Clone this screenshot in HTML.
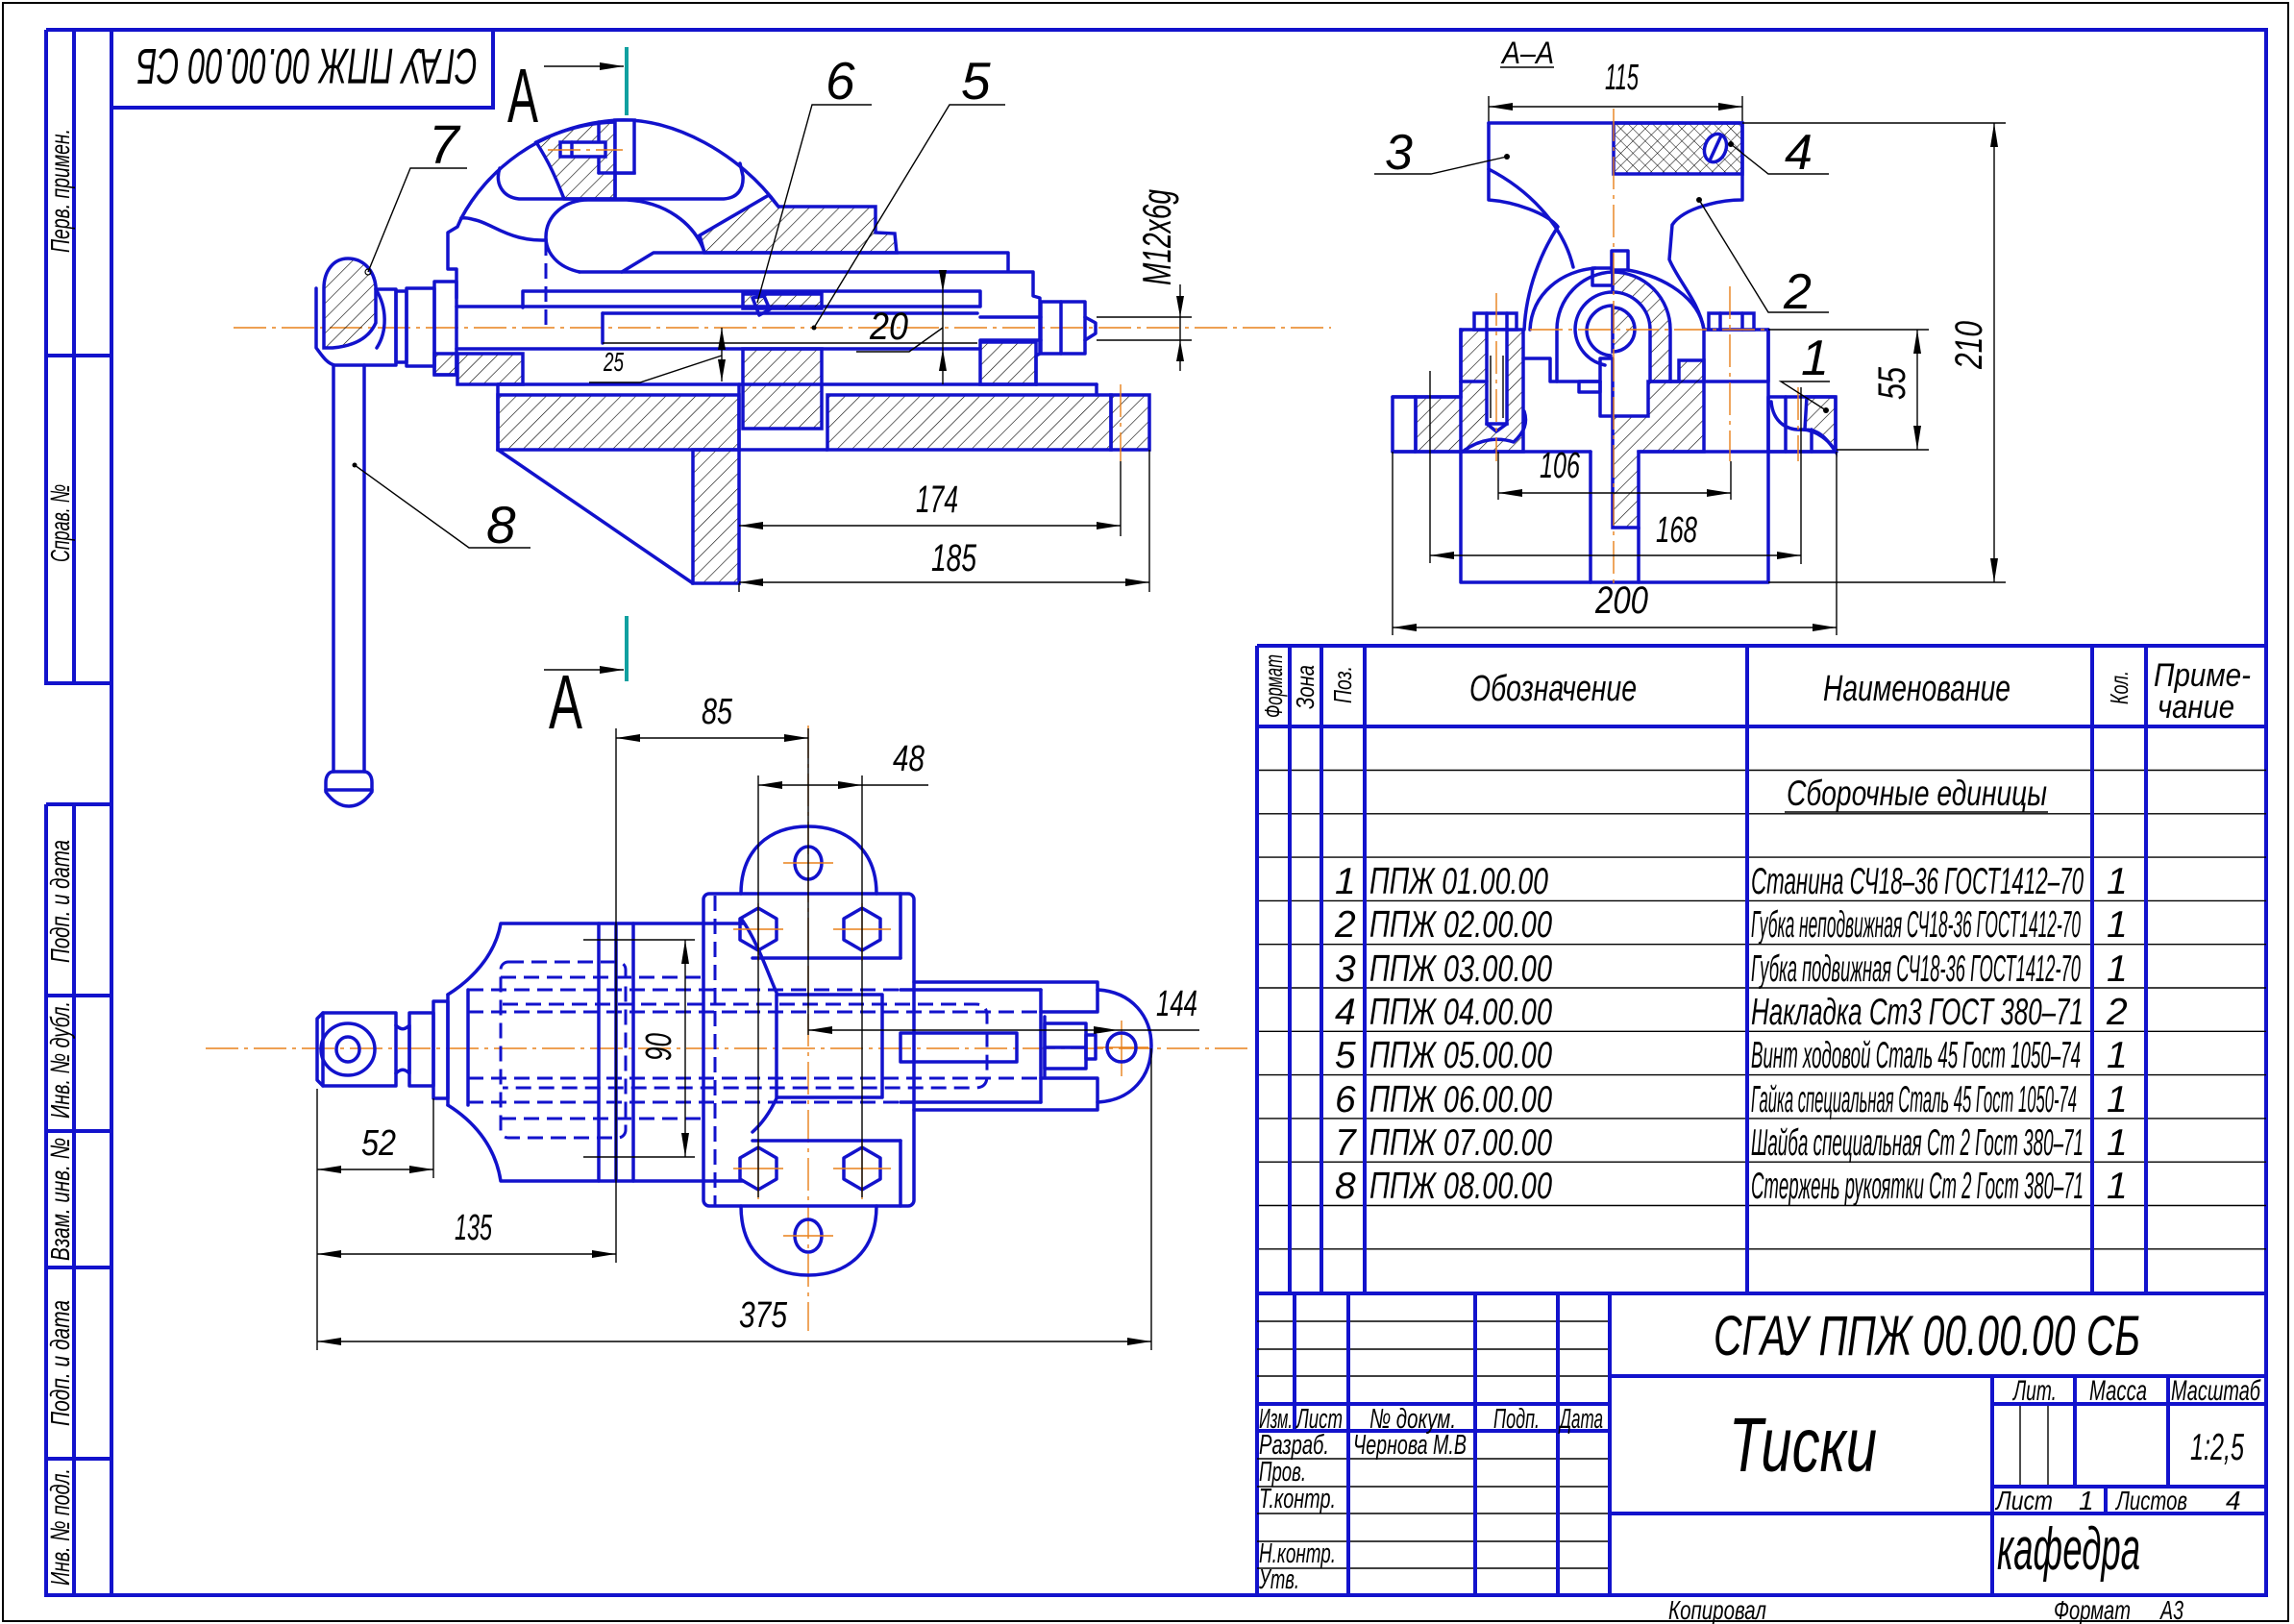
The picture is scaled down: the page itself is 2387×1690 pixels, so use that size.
<!DOCTYPE html>
<html><head><meta charset="utf-8">
<style>
html,body{margin:0;padding:0;background:#fff;}
svg{display:block;}
.m{stroke:#1212cc;stroke-width:3.5;fill:none;stroke-linejoin:round;stroke-linecap:round}
.mf{stroke:#1212cc;stroke-width:3.5;fill:#fff}
.hh{stroke:#1212cc;stroke-width:3.5;fill:url(#h)}
.hg{stroke:#1212cc;stroke-width:3.5;fill:url(#g)}
.t{stroke:#000;stroke-width:1.4;fill:none}
.c{stroke:#e8801a;stroke-width:1.4;fill:none;stroke-dasharray:34 6 4 6}
.d{stroke:#1212cc;stroke-width:3;fill:none;stroke-dasharray:16 8}
.b{stroke:#1212cc;stroke-width:4;fill:none}
.dm{marker-start:url(#a);marker-end:url(#a)}
.de{marker-end:url(#a)}
text{font-family:"Liberation Sans Narrow","Liberation Sans",sans-serif;font-style:italic;fill:#000}
</style></head><body>
<svg width="2387" height="1690" viewBox="0 0 2387 1690" xmlns="http://www.w3.org/2000/svg">
<defs>
<marker id="a" markerUnits="userSpaceOnUse" markerWidth="28" markerHeight="10" viewBox="-27 -5 28 10" refX="0" refY="0" orient="auto-start-reverse"><path d="M0,0 L-25,-4 L-25,4 Z" fill="#000"/></marker>
<pattern id="h" patternUnits="userSpaceOnUse" width="11" height="11" patternTransform="rotate(45)"><line x1="0" y1="0" x2="0" y2="11" stroke="#000" stroke-width="1.2"/></pattern>
<pattern id="g" patternUnits="userSpaceOnUse" width="11" height="11" patternTransform="rotate(-45)"><line x1="0" y1="0" x2="0" y2="11" stroke="#000" stroke-width="1.2"/></pattern>
<pattern id="x" patternUnits="userSpaceOnUse" width="9" height="9" patternTransform="rotate(45)"><path d="M0,0 V9 M0,0 H9" stroke="#000" stroke-width="1"/></pattern>
</defs>
<rect x="0" y="0" width="2387" height="1690" fill="#fff"/>
<!-- outer thin border -->
<rect x="3" y="3" width="2378" height="1684" fill="none" stroke="#000" stroke-width="2"/>
<!-- main frame -->
<rect class="b" x="116" y="31" width="2242" height="1629"/>

<!-- left margin upper -->
<path class="b" d="M48,31 L116,31 M48,31 L48,711 L116,711 M77,31 L77,711 M48,370 L116,370"/>
<text transform="translate(72,199) rotate(-90)" x="-64" y="0" font-size="28" textLength="129" lengthAdjust="spacingAndGlyphs">Перв. примен.</text>
<text transform="translate(72,545) rotate(-90)" x="-40" y="0" font-size="28" textLength="81" lengthAdjust="spacingAndGlyphs">Справ. №</text>
<!-- left margin lower -->
<path class="b" d="M48,837 L116,837 M48,837 L48,1660 L116,1660 M77,837 L77,1660 M48,1036 L116,1036 M48,1177 L116,1177 M48,1319 L116,1319 M48,1518 L116,1518"/>
<text transform="translate(72,938) rotate(-90)" x="-64" y="0" font-size="28" textLength="128" lengthAdjust="spacingAndGlyphs">Подп. и дата</text>
<text transform="translate(72,1103) rotate(-90)" x="-61" y="0" font-size="28" textLength="122" lengthAdjust="spacingAndGlyphs">Инв. № дубл.</text>
<text transform="translate(72,1248) rotate(-90)" x="-64" y="0" font-size="28" textLength="128" lengthAdjust="spacingAndGlyphs">Взам. инв. №</text>
<text transform="translate(72,1419) rotate(-90)" x="-65" y="0" font-size="28" textLength="131" lengthAdjust="spacingAndGlyphs">Подп. и дата</text>
<text transform="translate(72,1589) rotate(-90)" x="-61" y="0" font-size="28" textLength="122" lengthAdjust="spacingAndGlyphs">Инв. № подл.</text>

<!-- top-left stamp -->
<path class="b" d="M116,112 L513,112 L513,31"/>
<text transform="translate(320,70) rotate(180)" x="-177" y="19" font-size="52" textLength="355" lengthAdjust="spacingAndGlyphs">СГАУ ППЖ 00.00.00 СБ</text>

<!-- ================= SIDE VIEW ================= -->
<line class="c" x1="243" y1="341" x2="1385" y2="341"/>
<!-- handle head -->
<path class="m" d="M329,300 L329,362 C335,370 340,378 348,380 L412,380 L412,301 L392,301"/>
<path class="hh" d="M337,300 C337,282 347,269 362,269 C378,269 389,281 391,298 L391,336 C384,352 368,360 346,362 L337,362 Z"/>
<path class="m" d="M391,301 C403,320 403,345 392,362"/>
<rect class="m" x="412" y="303" width="11" height="74"/>
<rect class="m" x="423" y="300" width="29" height="81"/>
<rect class="m" x="452" y="293" width="23" height="97"/>
<circle cx="383" cy="283" r="3" fill="none" stroke="#000" stroke-width="1.2"/>
<!-- handle rod -->
<line class="m" x1="347" y1="380" x2="347" y2="803"/>
<line class="m" x1="379" y1="380" x2="379" y2="803"/>
<path class="m" d="M347,803 L379,803 C384,803 387,808 387,814 L387,824 C380,834 372,839 363,839 C354,839 346,834 339,824 L339,814 C339,808 342,803 347,803 Z"/>
<line class="m" x1="339" y1="822" x2="387" y2="822"/>
<!-- jaw body -->
<path class="m" d="M480,227 L476,236 L466,242 L466,280 L475,280 L475,310"/>
<path class="m" d="M480,227 C505,180 560,130 643,125 C700,122 770,160 810,215"/>
<path class="m" d="M480,227 C486,226 490,228 495,229 C508,232 520,242 540,247 C552,250 560,250 568,250"/>
<path class="m" d="M520,175 C515,190 522,205 540,207 L753,207 C768,206 774,196 773,183 L770,170"/>
<path class="hh" d="M558,148 C585,135 610,128 640,127 L640,207 L587,207 C580,190 575,175 558,148 Z"/>
<line class="m" x1="623" y1="127" x2="623" y2="180"/>
<line class="m" x1="623" y1="180" x2="660" y2="180"/>
<rect class="mf" x="583" y="148" width="47" height="15"/>
<line class="m" x1="595" y1="148" x2="595" y2="163"/>
<rect class="mf" x="640" y="125" width="20" height="55"/>
<line class="m" x1="640" y1="180" x2="640" y2="207"/>
<line class="c" x1="570" y1="156" x2="648" y2="156"/>
<line class="d" x1="568" y1="250" x2="568" y2="341"/>
<path class="m" d="M603,283 C580,278 568,263 568,247 C568,224 588,208 612,208 L652,208 C692,210 722,232 733,262"/>
<path class="hh" d="M733,263 L728,245 L800,203 L810,215 L911,215 L911,242 L931,243 L933,263 Z"/>
<!-- slide -->
<path class="m" d="M647,283 L680,263 L1049,263 L1049,282"/>
<path class="m" d="M603,283 L1075,283 L1075,308 L1082,310 L1082,368 L1078,370 L1078,400"/>
<path class="m" d="M544,320 L544,303 L1020,303 L1020,318"/>
<!-- screw -->
<line class="m" x1="475" y1="319" x2="1020" y2="319"/>
<line class="m" x1="475" y1="363" x2="1020" y2="363"/>
<line class="m" x1="627" y1="326" x2="627" y2="357"/>
<line class="m" x1="627" y1="326" x2="1017" y2="326"/>
<line class="t" x1="627" y1="357" x2="1017" y2="357"/>
<line class="m" x1="1020" y1="330" x2="1083" y2="330"/>
<line class="m" x1="1020" y1="354" x2="1083" y2="354"/>
<rect class="m" x="1083" y="314" width="46" height="54"/>
<line class="m" x1="1104" y1="314" x2="1104" y2="368"/>
<path class="m" d="M1129,330 L1140,336 L1140,347 L1129,354"/>
<!-- lower hatched parts -->
<rect class="hh" x="476" y="368" width="68" height="32"/>
<rect class="hh" x="452" y="368" width="23" height="22"/>
<rect class="hh" x="773" y="363" width="82" height="83"/>
<rect class="hh" x="773" y="306" width="82" height="15"/>
<path class="m" d="M783,310 L795,308 L801,322 L790,328 Z" fill="#fff"/>
<rect class="hh" x="1020" y="356" width="58" height="44"/>
<!-- base -->
<line class="m" x1="518" y1="400" x2="1141" y2="400"/>
<line class="m" x1="1141" y1="400" x2="1141" y2="411"/>
<rect class="hh" x="518" y="411" width="251" height="57"/>
<rect class="hh" x="861" y="411" width="295" height="57"/>
<rect class="hh" x="1156" y="411" width="40" height="57"/>
<line class="m" x1="769" y1="468" x2="861" y2="468"/>
<line class="m" x1="769" y1="400" x2="769" y2="468"/>
<rect class="hh" x="721" y="468" width="48" height="139"/>
<line class="m" x1="518" y1="468" x2="721" y2="607"/>
<line class="m" x1="518" y1="400" x2="518" y2="468"/>
<line class="c" x1="1166" y1="400" x2="1166" y2="480"/>
<!-- dims side -->
<line class="t" x1="981" y1="283" x2="981" y2="400"/>
<path d="M981,304 L977,281 L985,281 Z" fill="#000"/>
<path d="M981,363 L977,386 L985,386 Z" fill="#000"/>
<text x="905" y="353" font-size="40" textLength="40" lengthAdjust="spacingAndGlyphs">20</text>
<path class="t" d="M891,366 L946,366 L981,341"/>
<line class="t" x1="751" y1="341" x2="751" y2="397"/>
<path d="M751,341 L747,364 L755,364 Z" fill="#000"/>
<path d="M751,397 L747,374 L755,374 Z" fill="#000"/>
<text x="628" y="386" font-size="28" textLength="21" lengthAdjust="spacingAndGlyphs">25</text>
<path class="t" d="M613,398 L666,398 L751,370"/>
<line class="t" x1="1141" y1="330" x2="1240" y2="330"/>
<line class="t" x1="1141" y1="354" x2="1240" y2="354"/>
<line class="t" x1="1228" y1="296" x2="1228" y2="386"/>
<path d="M1228,330 L1224,308 L1232,308 Z" fill="#000"/>
<path d="M1228,354 L1224,376 L1232,376 Z" fill="#000"/>
<text transform="translate(1218,247) rotate(-90)" x="-50" y="0" font-size="42" textLength="100" lengthAdjust="spacingAndGlyphs">M12x6g</text>
<line class="t" x1="1166" y1="480" x2="1166" y2="558"/>
<line class="t" x1="1196" y1="468" x2="1196" y2="616"/>
<line class="t" x1="769" y1="607" x2="769" y2="616"/>
<line class="t dm" x1="769" y1="547" x2="1166" y2="547"/>
<line class="t dm" x1="769" y1="606" x2="1196" y2="606"/>
<text x="953" y="533" font-size="40" textLength="44" lengthAdjust="spacingAndGlyphs">174</text>
<text x="969" y="594" font-size="40" textLength="47" lengthAdjust="spacingAndGlyphs">185</text>
<!-- labels side -->
<text x="446" y="170" font-size="57">7</text>
<path class="t" d="M486,175 L427,175 L383,283"/>
<text x="859" y="103" font-size="55">6</text>
<path class="t" d="M907,109 L845,109 L788,315"/>
<text x="1000" y="103" font-size="55">5</text>
<path class="t" d="M1046,109 L988,109 L847,341"/>
<circle cx="847" cy="341" r="2.5" fill="#000"/>
<text x="506" y="565" font-size="55">8</text>
<path class="t" d="M552,570 L488,570 L369,484"/>
<circle cx="369" cy="484" r="2.5" fill="#000"/>
<!-- section marks -->
<line x1="652" y1="49" x2="652" y2="120" stroke="#10a0a0" stroke-width="4"/>
<line class="t de" x1="566" y1="69" x2="649" y2="69"/>
<text x="528" y="127" font-size="80" textLength="32" lengthAdjust="spacingAndGlyphs" style="font-style:normal">A</text>
<line x1="652" y1="641" x2="652" y2="709" stroke="#10a0a0" stroke-width="4"/>
<line class="t de" x1="566" y1="697" x2="649" y2="697"/>
<text x="571" y="758" font-size="80" textLength="35" lengthAdjust="spacingAndGlyphs" style="font-style:normal">A</text>

<!-- ================= SECTION A-A ================= -->
<text x="1563" y="66" font-size="32" textLength="54" lengthAdjust="spacingAndGlyphs">А–А</text>
<line class="t" x1="1561" y1="70" x2="1617" y2="70"/>
<line class="t" x1="1549" y1="100" x2="1549" y2="128"/>
<line class="t" x1="1813" y1="100" x2="1813" y2="128"/>
<line class="t dm" x1="1549" y1="111" x2="1813" y2="111"/>
<text x="1670" y="93" font-size="38" textLength="35" lengthAdjust="spacingAndGlyphs">115</text>
<rect x="1679" y="128" width="134" height="53" fill="url(#x)" stroke="#1212cc" stroke-width="3.5"/>
<path class="m" d="M1549,128 L1813,128 L1813,208 C1790,208 1752,216 1740,234 L1737,270 C1746,292 1768,314 1773,343"/>
<path class="m" d="M1549,128 L1549,208 C1576,210 1610,222 1621,236 C1604,262 1588,300 1586,343"/>
<path class="m" d="M1549,176 C1588,196 1626,232 1637,278"/>
<ellipse class="mf" cx="1785" cy="154" rx="11" ry="15" transform="rotate(20 1785 154)"/>
<line class="m" x1="1779" y1="167" x2="1791" y2="141"/>
<!-- hub -->
<path class="m" d="M1592,343 C1594,305 1625,282 1660,279"/>
<path class="m" d="M1694,281 C1732,288 1768,310 1773,343"/>
<rect class="m" x="1677" y="261" width="17" height="20"/>
<rect class="m" x="1657" y="279" width="21" height="18"/>
<path class="hh" d="M1678,283 A60,60 0 0 1 1738,343 L1738,397 L1717,397 L1717,343 A39,39 0 0 0 1678,304 Z"/>
<path class="hh" d="M1678,320 A23,23 0 0 1 1678,366 Z"/>
<path class="m" d="M1678,304 A39,39 0 0 0 1639,343 A39,39 0 0 0 1670,380"/>
<path class="m" d="M1678,318 A27,27 0 0 0 1651,343 A27,27 0 0 0 1676,370"/>
<path class="m" d="M1678,283 A60,60 0 0 0 1620,343 L1620,397"/>
<rect class="m" x="1665" y="373" width="13" height="60"/>
<rect class="m" x="1643" y="397" width="22" height="11"/>
<path class="m" d="M1585,373 L1613,373 L1613,397 L1665,397"/>
<!-- left block & flange -->
<path class="hh" d="M1473,413 L1520,413 L1520,343 L1585,343 L1585,470 L1473,470 Z"/>
<rect class="m" x="1449" y="413" width="24" height="57"/>
<line class="m" x1="1449" y1="413" x2="1520" y2="413"/>
<path class="m" d="M1522,470 C1540,456 1560,455 1575,460 C1586,450 1590,440 1586,428"/>
<rect class="mf" x="1534" y="326" width="44" height="17"/>
<line class="m" x1="1547" y1="326" x2="1547" y2="343"/>
<line class="m" x1="1568" y1="326" x2="1568" y2="343"/>
<rect class="mf" x="1547" y="343" width="21" height="98"/>
<line class="t" x1="1551" y1="370" x2="1551" y2="435"/>
<line class="t" x1="1564" y1="370" x2="1564" y2="435"/>
<path class="m" d="M1547,441 L1557,449 L1568,441"/>
<line class="m" x1="1520" y1="397" x2="1547" y2="397"/>
<!-- right block & flange -->
<rect class="m" x="1773" y="343" width="67" height="54"/>
<line class="m" x1="1738" y1="397" x2="1773" y2="397"/>
<rect class="mf" x="1778" y="326" width="47" height="17"/>
<line class="m" x1="1790" y1="326" x2="1790" y2="343"/>
<line class="m" x1="1813" y1="326" x2="1813" y2="343"/>
<path class="hh" d="M1880,413 L1910,413 L1910,470 C1900,455 1892,447 1878,447 Z"/>
<rect class="m" x="1840" y="413" width="70" height="57"/>
<path class="m" d="M1843,418 C1845,440 1860,448 1875,447 C1890,447 1905,460 1910,470"/>
<line class="m" x1="1858" y1="413" x2="1858" y2="470"/>
<line class="m" x1="1885" y1="447" x2="1885" y2="470"/>
<!-- center hatched -->
<path class="hh" d="M1678,433 L1715,433 L1715,397 L1747,397 L1747,375 L1773,375 L1773,470 L1705,470 L1705,549 L1678,549 Z"/>
<!-- lower box -->
<path class="m" d="M1520,343 L1520,606 L1840,606 L1840,343"/>
<line class="m" x1="1655" y1="470" x2="1655" y2="606"/>
<line class="m" x1="1705" y1="549" x2="1705" y2="606"/>
<line class="m" x1="1449" y1="470" x2="1655" y2="470"/>
<line class="m" x1="1705" y1="470" x2="1911" y2="470"/>
<!-- centerlines -->
<line class="c" x1="1679" y1="113" x2="1679" y2="607"/>
<line class="c" x1="1592" y1="343" x2="1840" y2="343"/>
<line class="c" x1="1557" y1="305" x2="1557" y2="480"/>
<line class="c" x1="1800" y1="298" x2="1800" y2="480"/>
<line class="c" x1="1871" y1="403" x2="1871" y2="480"/>
<!-- dims A-A -->
<line class="t" x1="1559" y1="470" x2="1559" y2="520"/>
<line class="t" x1="1801" y1="480" x2="1801" y2="520"/>
<line class="t dm" x1="1559" y1="513" x2="1801" y2="513"/>
<text x="1602" y="497" font-size="38" textLength="42" lengthAdjust="spacingAndGlyphs">106</text>
<line class="t" x1="1488" y1="386" x2="1488" y2="586"/>
<line class="t" x1="1874" y1="403" x2="1874" y2="587"/>
<line class="t dm" x1="1488" y1="578" x2="1874" y2="578"/>
<text x="1723" y="564" font-size="38" textLength="43" lengthAdjust="spacingAndGlyphs">168</text>
<line class="t" x1="1449" y1="470" x2="1449" y2="661"/>
<line class="t" x1="1911" y1="470" x2="1911" y2="661"/>
<line class="t dm" x1="1449" y1="653" x2="1911" y2="653"/>
<text x="1660" y="638" font-size="40" textLength="55" lengthAdjust="spacingAndGlyphs">200</text>
<line class="t" x1="1840" y1="343" x2="2007" y2="343"/>
<line class="t" x1="1911" y1="468" x2="2007" y2="468"/>
<line class="t dm" x1="1995" y1="343" x2="1995" y2="468"/>
<text transform="translate(1982,399) rotate(-90)" x="-17" y="0" font-size="40" textLength="34" lengthAdjust="spacingAndGlyphs">55</text>
<line class="t" x1="1813" y1="128" x2="2087" y2="128"/>
<line class="t" x1="1840" y1="606" x2="2087" y2="606"/>
<line class="t dm" x1="2075" y1="128" x2="2075" y2="606"/>
<text transform="translate(2062,359) rotate(-90)" x="-25" y="0" font-size="40" textLength="50" lengthAdjust="spacingAndGlyphs">210</text>
<!-- labels A-A -->
<text x="1441" y="176" font-size="52">3</text>
<path class="t" d="M1430,181 L1489,181 L1568,163"/>
<circle cx="1568" cy="163" r="3" fill="#000"/>
<text x="1857" y="176" font-size="52">4</text>
<path class="t" d="M1903,181 L1840,181 L1801,150"/>
<circle cx="1801" cy="150" r="3" fill="#000"/>
<text x="1856" y="321" font-size="52">2</text>
<path class="t" d="M1903,325 L1840,325 L1768,208"/>
<circle cx="1768" cy="208" r="3" fill="#000"/>
<text x="1874" y="390" font-size="52">1</text>
<path class="t" d="M1904,397 L1853,397 L1900,427"/>
<circle cx="1900" cy="427" r="3" fill="#000"/>

<!-- ================= PLAN VIEW ================= -->
<line class="c" x1="214" y1="1091" x2="1300" y2="1091"/>
<line class="c" x1="841" y1="755" x2="841" y2="1385"/>
<!-- eye -->
<path class="m" d="M336,1054 L412,1054 L412,1130 L336,1130 L330,1124 L330,1060 Z"/>
<line class="m" x1="336" y1="1054" x2="336" y2="1130"/>
<ellipse class="m" cx="362" cy="1092" rx="28" ry="27"/>
<ellipse class="m" cx="362" cy="1092" rx="12" ry="13"/>
<path class="m" d="M412,1067 C417,1072 421,1072 426,1067 L426,1117 C421,1112 417,1112 412,1117"/>
<rect class="m" x="426" y="1054" width="25" height="76"/>
<rect class="m" x="451" y="1042" width="15" height="101"/>
<!-- body -->
<path class="m" d="M466,1035 C490,1020 515,995 521,961 L773,961"/>
<path class="m" d="M466,1150 C490,1165 515,1190 521,1229 L773,1229"/>
<line class="m" x1="466" y1="1035" x2="466" y2="1150"/>
<line class="m" x1="487" y1="1030" x2="487" y2="1150"/>
<line class="m" x1="623" y1="961" x2="623" y2="1229"/>
<line class="m" x1="641" y1="961" x2="641" y2="1229"/>
<line class="m" x1="659" y1="961" x2="659" y2="1229"/>
<!-- dashed hidden -->
<rect class="d" x="521" y="1001" width="130" height="183" rx="8"/>
<line class="d" x1="487" y1="1030" x2="937" y2="1030"/>
<line class="d" x1="487" y1="1147" x2="937" y2="1147"/>
<path class="d" d="M523,1045 L1015,1045 Q1027,1045 1027,1057 L1027,1120 Q1027,1132 1015,1132 L523,1132"/>
<line class="d" x1="487" y1="1053" x2="1083" y2="1053"/>
<line class="d" x1="487" y1="1122" x2="1083" y2="1122"/>
<line class="d" x1="521" y1="1017" x2="730" y2="1017"/>
<line class="d" x1="521" y1="1164" x2="730" y2="1164"/>
<!-- center block -->
<rect class="m" x="732" y="930" width="219" height="325" rx="6"/>
<line class="d" x1="744" y1="932" x2="744" y2="1255"/>
<line class="m" x1="783" y1="997" x2="937" y2="997"/>
<line class="m" x1="783" y1="1187" x2="937" y2="1187"/>
<line class="m" x1="937" y1="930" x2="937" y2="997"/>
<line class="m" x1="937" y1="1187" x2="937" y2="1255"/>
<path class="m" d="M772,957 C788,980 798,1010 808,1033"/>
<path class="m" d="M808,1143 C800,1160 792,1170 783,1178"/>
<path class="m" d="M771,930 C771,885 800,860 841,860 C882,860 912,885 912,930"/>
<path class="m" d="M771,1255 C771,1302 800,1327 841,1327 C882,1327 912,1302 912,1255"/>
<ellipse class="m" cx="841" cy="898" rx="14" ry="17"/>
<ellipse class="m" cx="841" cy="1286" rx="14" ry="17"/>
<polygon class="m" points="789,945 808,956 808,978 789,989 770,978 770,956"/>
<polygon class="m" points="897,945 916,956 916,978 897,989 878,978 878,956"/>
<polygon class="m" points="789,1194 808,1205 808,1227 789,1238 770,1227 770,1205"/>
<polygon class="m" points="897,1194 916,1205 916,1227 897,1238 878,1227 878,1205"/>
<path style="stroke:#e8801a;stroke-width:1.4;fill:none" d="M763,967 L815,967 M867,967 L927,967 M763,1216 L815,1216 M867,1216 L927,1216 M815,898 L867,898 M815,1286 L867,1286 M789,940 L789,1000 M897,940 L897,1000 M789,1188 L789,1248 M897,1188 L897,1248 M1167,1062 L1167,1120 M1140,1090 L1195,1090"/>
<!-- right portion -->
<path class="m" d="M951,1022 L1142,1022 L1142,1053 L1083,1053"/>
<path class="m" d="M951,1155 L1142,1155 L1142,1122 L1083,1122"/>
<line class="m" x1="937" y1="1030" x2="1083" y2="1030"/>
<line class="m" x1="937" y1="1147" x2="1083" y2="1147"/>
<line class="m" x1="1083" y1="1030" x2="1083" y2="1147"/>
<path class="m" d="M1142,1030 C1178,1032 1198,1058 1198,1088 C1198,1120 1178,1145 1142,1147"/>
<ellipse class="m" cx="1167" cy="1090" rx="15" ry="15"/>
<line class="m" x1="1087" y1="1058" x2="1087" y2="1120"/>
<rect class="m" x="1087" y="1065" width="43" height="47"/>
<line class="m" x1="1087" y1="1090" x2="1130" y2="1090"/>
<rect class="m" x="1130" y="1077" width="10" height="25"/>
<rect class="m" x="937" y="1075" width="121" height="30"/>
<rect class="m" x="808" y="1035" width="110" height="107"/>
<!-- dims plan -->
<line class="t" x1="641" y1="758" x2="641" y2="1314"/>
<line class="t" x1="841" y1="758" x2="841" y2="1077"/>
<line class="t dm" x1="641" y1="768" x2="841" y2="768"/>
<text x="730" y="753" font-size="38" textLength="32" lengthAdjust="spacingAndGlyphs">85</text>
<line class="t" x1="789" y1="807" x2="789" y2="1246"/>
<line class="t" x1="897" y1="807" x2="897" y2="1246"/>
<line class="t dm" x1="789" y1="817" x2="897" y2="817"/>
<line class="t" x1="897" y1="817" x2="966" y2="817"/>
<text x="929" y="802" font-size="38" textLength="33" lengthAdjust="spacingAndGlyphs">48</text>
<line class="t" x1="607" y1="978" x2="723" y2="978"/>
<line class="t" x1="607" y1="1204" x2="723" y2="1204"/>
<line class="t dm" x1="713" y1="978" x2="713" y2="1204"/>
<text transform="translate(698,1089) rotate(-90)" x="-15" y="0" font-size="38" textLength="29" lengthAdjust="spacingAndGlyphs">90</text>
<line class="t" x1="330" y1="1133" x2="330" y2="1405"/>
<line class="t" x1="451" y1="1143" x2="451" y2="1226"/>
<line class="t dm" x1="330" y1="1217" x2="451" y2="1217"/>
<text x="376" y="1202" font-size="38" textLength="36" lengthAdjust="spacingAndGlyphs">52</text>
<line class="t dm" x1="330" y1="1305" x2="641" y2="1305"/>
<text x="473" y="1290" font-size="38" textLength="39" lengthAdjust="spacingAndGlyphs">135</text>
<line class="t" x1="1198" y1="1091" x2="1198" y2="1405"/>
<line class="t dm" x1="330" y1="1396" x2="1198" y2="1396"/>
<text x="769" y="1381" font-size="38" textLength="50" lengthAdjust="spacingAndGlyphs">375</text>
<line class="t dm" x1="841" y1="1072" x2="1163" y2="1072"/>
<line class="t" x1="1163" y1="1072" x2="1248" y2="1072"/>
<text x="1203" y="1057" font-size="38" textLength="43" lengthAdjust="spacingAndGlyphs">144</text>

<!-- ================= SPEC TABLE ================= -->
<g class="t">
<line x1="1308" y1="801.5" x2="2358" y2="801.5"/>
<line x1="1308" y1="846.8" x2="2358" y2="846.8"/>
<line x1="1308" y1="892.1" x2="2358" y2="892.1"/>
<line x1="1308" y1="937.4" x2="2358" y2="937.4"/>
<line x1="1308" y1="982.7" x2="2358" y2="982.7"/>
<line x1="1308" y1="1028" x2="2358" y2="1028"/>
<line x1="1308" y1="1073.3" x2="2358" y2="1073.3"/>
<line x1="1308" y1="1118.6" x2="2358" y2="1118.6"/>
<line x1="1308" y1="1163.9" x2="2358" y2="1163.9"/>
<line x1="1308" y1="1209.2" x2="2358" y2="1209.2"/>
<line x1="1308" y1="1254.5" x2="2358" y2="1254.5"/>
<line x1="1308" y1="1299.8" x2="2358" y2="1299.8"/>
</g>
<path class="b" d="M1308,672 L2358,672 M1308,756 L2358,756 M1308,672 L1308,1660 M1342,672 L1342,1346 M1375,672 L1375,1346 M1420,672 L1420,1346 M1818,672 L1818,1346 M2177,672 L2177,1346 M2233,672 L2233,1346"/>
<text transform="translate(1334,714) rotate(-90)" x="-33" y="0" font-size="26" textLength="66" lengthAdjust="spacingAndGlyphs">Формат</text>
<text transform="translate(1367,715) rotate(-90)" x="-23" y="0" font-size="26" textLength="46" lengthAdjust="spacingAndGlyphs">Зона</text>
<text transform="translate(1406,712) rotate(-90)" x="-20" y="0" font-size="26" textLength="39" lengthAdjust="spacingAndGlyphs">Поз.</text>
<text transform="translate(2214,715) rotate(-90)" x="-18" y="0" font-size="26" textLength="35" lengthAdjust="spacingAndGlyphs">Кол.</text>
<text x="1529" y="729" font-size="38" textLength="174" lengthAdjust="spacingAndGlyphs">Обозначение</text>
<text x="1897" y="729" font-size="38" textLength="195" lengthAdjust="spacingAndGlyphs">Наименование</text>
<text x="2241" y="714" font-size="34" textLength="101" lengthAdjust="spacingAndGlyphs">Приме-</text>
<text x="2245" y="747" font-size="34" textLength="80" lengthAdjust="spacingAndGlyphs">чание</text>
<text x="1859" y="838" font-size="37" textLength="271" lengthAdjust="spacingAndGlyphs">Сборочные единицы</text>
<line class="t" x1="1857" y1="845" x2="2131" y2="845"/>
<g font-size="39">
<text x="1389" y="930">1</text><text x="1389" y="975">2</text><text x="1389" y="1021">3</text><text x="1389" y="1066">4</text>
<text x="1389" y="1111">5</text><text x="1389" y="1157">6</text><text x="1389" y="1202">7</text><text x="1389" y="1247">8</text>
<text x="1425" y="930" textLength="186" lengthAdjust="spacingAndGlyphs">ППЖ 01.00.00</text>
<text x="1425" y="975" textLength="190" lengthAdjust="spacingAndGlyphs">ППЖ 02.00.00</text>
<text x="1425" y="1021" textLength="190" lengthAdjust="spacingAndGlyphs">ППЖ 03.00.00</text>
<text x="1425" y="1066" textLength="190" lengthAdjust="spacingAndGlyphs">ППЖ 04.00.00</text>
<text x="1425" y="1111" textLength="190" lengthAdjust="spacingAndGlyphs">ППЖ 05.00.00</text>
<text x="1425" y="1157" textLength="190" lengthAdjust="spacingAndGlyphs">ППЖ 06.00.00</text>
<text x="1425" y="1202" textLength="190" lengthAdjust="spacingAndGlyphs">ППЖ 07.00.00</text>
<text x="1425" y="1247" textLength="190" lengthAdjust="spacingAndGlyphs">ППЖ 08.00.00</text>
<text x="1822" y="930" textLength="346" lengthAdjust="spacingAndGlyphs">Станина СЧ18–36 ГОСТ1412–70</text>
<text x="1822" y="975" textLength="343" lengthAdjust="spacingAndGlyphs">Губка неподвижная СЧ18-36 ГОСТ1412-70</text>
<text x="1822" y="1021" textLength="343" lengthAdjust="spacingAndGlyphs">Губка подвижная СЧ18-36 ГОСТ1412-70</text>
<text x="1822" y="1066" textLength="346" lengthAdjust="spacingAndGlyphs">Накладка Ст3 ГОСТ 380–71</text>
<text x="1822" y="1111" textLength="343" lengthAdjust="spacingAndGlyphs">Винт ходовой Сталь 45 Гост 1050–74</text>
<text x="1822" y="1157" textLength="339" lengthAdjust="spacingAndGlyphs">Гайка специальная Сталь 45 Гост 1050-74</text>
<text x="1822" y="1202" textLength="346" lengthAdjust="spacingAndGlyphs">Шайба специальная Ст 2 Гост 380–71</text>
<text x="1822" y="1247" textLength="346" lengthAdjust="spacingAndGlyphs">Стержень рукоятки Ст 2 Гост 380–71</text>
<text x="2192" y="930">1</text><text x="2192" y="975">1</text><text x="2192" y="1021">1</text><text x="2192" y="1066">2</text>
<text x="2192" y="1111">1</text><text x="2192" y="1157">1</text><text x="2192" y="1202">1</text><text x="2192" y="1247">1</text>
</g>

<!-- ================= TITLE BLOCK ================= -->
<g class="t">
<line x1="1308" y1="1375" x2="1675" y2="1375"/>
<line x1="1308" y1="1404" x2="1675" y2="1404"/>
<line x1="1308" y1="1432" x2="1675" y2="1432"/>
<line x1="1308" y1="1518" x2="1675" y2="1518"/>
<line x1="1308" y1="1547" x2="1675" y2="1547"/>
<line x1="1308" y1="1575" x2="1675" y2="1575"/>
<line x1="1308" y1="1604" x2="1675" y2="1604"/>
<line x1="1308" y1="1632" x2="1675" y2="1632"/>
<line x1="2102" y1="1461" x2="2102" y2="1547"/>
<line x1="2131" y1="1461" x2="2131" y2="1547"/>
</g>
<path class="b" d="M1308,1346 L2358,1346 M1308,1461 L1675,1461 M1308,1489 L1675,1489 M1347,1346 L1347,1489 M1403,1346 L1403,1660 M1535,1346 L1535,1660 M1621,1346 L1621,1660 M1675,1346 L1675,1660 M1675,1432 L2358,1432 M1675,1575 L2358,1575 M2073,1432 L2073,1660 M2073,1461 L2358,1461 M2073,1547 L2358,1547 M2159,1432 L2159,1547 M2256,1432 L2256,1547 M2191,1547 L2191,1575"/>
<text x="1783" y="1410" font-size="58" textLength="444" lengthAdjust="spacingAndGlyphs">СГАУ ППЖ 00.00.00 СБ</text>
<text x="1799" y="1531" font-size="80" textLength="154" lengthAdjust="spacingAndGlyphs">Тиски</text>
<text x="2095" y="1457" font-size="30" textLength="45" lengthAdjust="spacingAndGlyphs">Лит.</text>
<text x="2174" y="1457" font-size="30" textLength="60" lengthAdjust="spacingAndGlyphs">Масса</text>
<text x="2259" y="1457" font-size="30" textLength="93" lengthAdjust="spacingAndGlyphs">Масштаб</text>
<text x="2279" y="1519" font-size="39" textLength="56" lengthAdjust="spacingAndGlyphs">1:2,5</text>
<text x="2077" y="1571" font-size="28" textLength="59" lengthAdjust="spacingAndGlyphs">Лист</text>
<text x="2163" y="1571" font-size="28">1</text>
<text x="2202" y="1571" font-size="28" textLength="74" lengthAdjust="spacingAndGlyphs">Листов</text>
<text x="2316" y="1571" font-size="28">4</text>
<text x="2078" y="1633" font-size="62" textLength="149" lengthAdjust="spacingAndGlyphs">кафедра</text>
<text x="1736" y="1685" font-size="28" textLength="102" lengthAdjust="spacingAndGlyphs">Копировал</text>
<text x="2137" y="1685" font-size="28" textLength="80" lengthAdjust="spacingAndGlyphs">Формат</text>
<text x="2248" y="1685" font-size="28" textLength="24" lengthAdjust="spacingAndGlyphs">А3</text>
<g font-size="29">
<text x="1310" y="1486" textLength="35" lengthAdjust="spacingAndGlyphs">Изм.</text>
<text x="1349" y="1486" textLength="48" lengthAdjust="spacingAndGlyphs">Лист</text>
<text x="1425" y="1486" textLength="90" lengthAdjust="spacingAndGlyphs">№ докум.</text>
<text x="1554" y="1486" textLength="48" lengthAdjust="spacingAndGlyphs">Подп.</text>
<text x="1623" y="1486" textLength="45" lengthAdjust="spacingAndGlyphs">Дата</text>
<text x="1310" y="1513" textLength="73" lengthAdjust="spacingAndGlyphs">Разраб.</text>
<text x="1408" y="1513" textLength="118" lengthAdjust="spacingAndGlyphs">Чернова М.В</text>
<text x="1310" y="1541" textLength="49" lengthAdjust="spacingAndGlyphs">Пров.</text>
<text x="1310" y="1569" textLength="80" lengthAdjust="spacingAndGlyphs">Т.контр.</text>
<text x="1310" y="1626" textLength="80" lengthAdjust="spacingAndGlyphs">Н.контр.</text>
<text x="1310" y="1653" textLength="42" lengthAdjust="spacingAndGlyphs">Утв.</text>
</g>
</svg>
</body></html>
